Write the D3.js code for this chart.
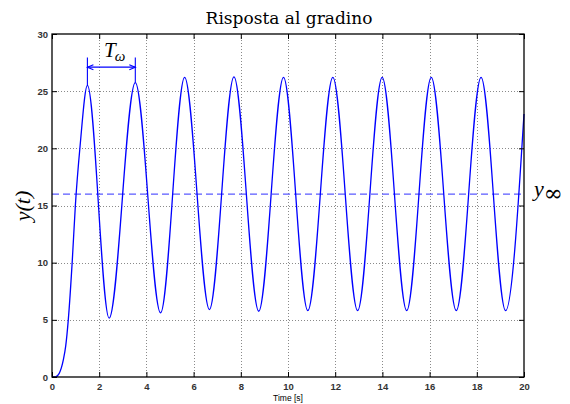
<!DOCTYPE html>
<html>
<head>
<meta charset="utf-8">
<script src="https://cdn.jsdelivr.net/npm/d3@7"></script>
<style>
  body { margin: 0; background: #fff; }
  .tick text { font-family: "Liberation Sans", Arial, sans-serif; font-size: 9.5px; font-weight: bold; fill: #333; }
</style>
</head>
<body>
<svg id="chart" width="570" height="404"></svg>
<script>
// step response, values (extrema + points on the first rise)
const times  = [0, 0.15, 0.3, 0.48, 0.58, 0.69, 0.86, 0.99, 1.19, 1.5,
                2.42, 3.53, 4.6, 5.62, 6.67, 7.71, 8.76, 9.81, 10.84, 11.9,
                12.95, 13.99, 15.03, 16.07, 17.13, 18.18, 19.22, 20];
const values = [0, 0.02, 0.3, 1.5, 2.7, 5, 10.2, 15, 20.2, 25.5,
                5.15, 25.75, 5.6, 26.2, 5.9, 26.25, 5.75, 26.2, 5.8, 26.2,
                5.8, 26.2, 5.8, 26.2, 5.8, 26.2, 5.8, 23.0];
const xTicks = [0, 2, 4, 6, 8, 10, 12, 14, 16, 18, 20];
const yTicks = [0, 5, 10, 15, 20, 25, 30];
const yInf = 16;                 // final value (dashed)
const tOmega = [1.5, 3.53];      // peaks used for the period marker
const tOmegaTop = 27.95;         // top of the marker bars
const tOmegaArrow = 27.1;        // level of the double arrow

const W = 570, H = 404;
const mg = {left: 52, right: 46, top: 34, bottom: 27};

const svg = d3.select("#chart");
const x = d3.scaleLinear().domain([0, 20]).range([mg.left, W - mg.right]);
const y = d3.scaleLinear().domain([0, 30]).range([H - mg.bottom, mg.top]);

// dotted grid
const grid = svg.append("g");
grid.selectAll("line.gx").data(xTicks.slice(1, -1)).join("line")
    .attr("x1", d => Math.round(x(d)) + 0.5).attr("x2", d => Math.round(x(d)) + 0.5)
    .attr("y1", y(30)).attr("y2", y(0))
    .attr("stroke", "#8a8a8a").attr("stroke-width", 1).attr("stroke-dasharray", "1,2");
grid.selectAll("line.gy").data(yTicks.slice(1, -1)).join("line")
    .attr("y1", d => Math.round(y(d)) + 0.5).attr("y2", d => Math.round(y(d)) + 0.5)
    .attr("x1", x(0)).attr("x2", x(20))
    .attr("stroke", "#8a8a8a").attr("stroke-width", 1).attr("stroke-dasharray", "1,2");

// dashed final value
svg.append("line")
   .attr("x1", x(0)).attr("x2", x(20)).attr("y1", y(yInf)).attr("y2", y(yInf))
   .attr("stroke", "#5a5aff").attr("stroke-width", 1.2).attr("stroke-dasharray", "7,4");

// response curve
const pts = times.map((t, i) => [t, values[i]]);
const line = d3.line().x(d => x(d[0])).y(d => y(d[1])).curve(d3.curveMonotoneX);
svg.append("path").datum(pts).attr("d", line)
   .attr("fill", "none").attr("stroke", "#0000ff").attr("stroke-width", 1.3);

// box + inward ticks
function styleAxis(g) {
  g.select(".domain").remove();
  g.selectAll(".tick line").attr("stroke", "#000");
}
svg.append("g").attr("transform", `translate(0,${y(0)})`)
   .call(d3.axisBottom(x).tickValues(xTicks).tickSize(-5).tickPadding(6)).call(styleAxis);
svg.append("g").attr("transform", `translate(0,${y(30)})`)
   .call(d3.axisTop(x).tickValues(xTicks).tickSize(-5).tickFormat("")).call(styleAxis);
svg.append("g").attr("transform", `translate(${x(0)},0)`)
   .call(d3.axisLeft(y).tickValues(yTicks).tickSize(-5).tickPadding(4)).call(styleAxis);
svg.append("g").attr("transform", `translate(${x(20)},0)`)
   .call(d3.axisRight(y).tickValues(yTicks).tickSize(-5).tickFormat("")).call(styleAxis);
svg.append("rect").attr("x", x(0)).attr("y", y(30))
   .attr("width", x(20) - x(0)).attr("height", y(0) - y(30))
   .attr("fill", "none").attr("stroke", "#000").attr("stroke-width", 1.3);

// period marker T_omega
const mk = svg.append("g").attr("stroke", "#0000ff").attr("stroke-width", 1.1).attr("fill", "none");
tOmega.forEach(t => {
  const pk = values[times.indexOf(t)];
  mk.append("line").attr("x1", x(t)).attr("x2", x(t)).attr("y1", y(tOmegaTop)).attr("y2", y(pk));
});
const ax0 = x(tOmega[0]), ax1 = x(tOmega[1]), ay = y(tOmegaArrow);
mk.append("line").attr("x1", ax0).attr("x2", ax1).attr("y1", ay).attr("y2", ay);
mk.append("path").attr("d", `M${ax0 + 6},${ay - 2.5} L${ax0},${ay} L${ax0 + 6},${ay + 2.5}`);
mk.append("path").attr("d", `M${ax1 - 6},${ay - 2.5} L${ax1},${ay} L${ax1 - 6},${ay + 2.5}`);

const serif = "'Liberation Serif', 'Times New Roman', serif";
const tw = svg.append("text").attr("x", 104).attr("y", y(tOmegaTop) - 0.5)
   .attr("font-family", serif).attr("font-style", "italic").attr("font-size", 21);
tw.append("tspan").text("T");
tw.append("tspan").text("ω").attr("font-size", 15).attr("dy", 4).attr("dx", -1);

// texts
svg.append("text").text("Risposta al gradino").attr("x", 289).attr("y", 24)
   .attr("text-anchor", "middle").attr("font-family", "'DejaVu Serif', serif").attr("font-size", 17);
svg.append("text").text("Time [s]").attr("x", (x(0) + x(20)) / 2).attr("y", 401)
   .attr("text-anchor", "middle").attr("font-family", "'Liberation Sans', Arial, sans-serif").attr("font-size", 8.5);
svg.append("text").attr("transform", "translate(30,206) rotate(-90)")
   .attr("text-anchor", "middle").attr("font-family", serif).attr("font-size", 22)
   .attr("font-style", "italic").text("y(t)");
const yl = svg.append("text").attr("x", 534).attr("y", 196)
   .attr("font-family", serif).attr("font-size", 22).attr("font-style", "italic");
yl.append("tspan").text("y");
yl.append("tspan").text("∞").attr("font-style", "normal").attr("font-family", "'DejaVu Serif', serif")
   .attr("font-size", 23).attr("dy", 5);
</script>
</body>
</html>
